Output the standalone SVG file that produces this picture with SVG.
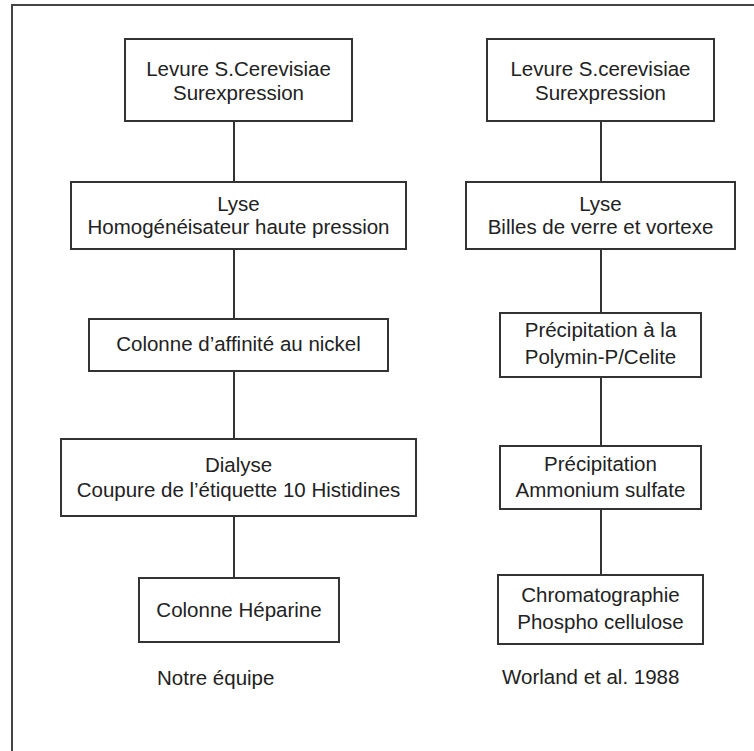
<svg xmlns="http://www.w3.org/2000/svg" width="754" height="751" viewBox="0 0 754 751">
<style>
.box{fill:#fff;stroke:#333;stroke-width:2}
.con line{stroke:#333;stroke-width:2}
text{font-family:"Liberation Sans",Arial,sans-serif;font-size:20.5px;fill:#222;text-anchor:middle}
.cap{text-anchor:start}
</style>
<rect width="754" height="751" fill="#fff"/>
<path d="M12,751 V5 H760" fill="none" stroke="#444" stroke-width="2"/>
<g class="con" id="connectors">
<line x1="234" y1="121" x2="234" y2="182"/>
<line x1="234" y1="249" x2="234" y2="319"/>
<line x1="234" y1="371" x2="234" y2="439"/>
<line x1="234" y1="516" x2="234" y2="578"/>
<line x1="601" y1="121" x2="601" y2="182"/>
<line x1="601" y1="249" x2="601" y2="313"/>
<line x1="601" y1="377" x2="601" y2="446"/>
<line x1="601" y1="509" x2="601" y2="575"/>
</g>
<g id="L1"><rect class="box" x="125" y="39" width="227" height="82"/><text x="238.5" y="76">Levure S.Cerevisiae</text><text x="238.5" y="100">Surexpression</text></g>
<g id="L2"><rect class="box" x="71" y="182" width="335" height="67"/><text x="238.5" y="211">Lyse</text><text x="238.5" y="234">Homogénéisateur haute pression</text></g>
<g id="L3"><rect class="box" x="89" y="319" width="299" height="52"/><text x="238.5" y="351">Colonne d’affinité au nickel</text></g>
<g id="L4"><rect class="box" x="61" y="439" width="355" height="77"/><text x="238.5" y="472">Dialyse</text><text x="238.5" y="497">Coupure de l’étiquette 10 Histidines</text></g>
<g id="L5"><rect class="box" x="139" y="578" width="200" height="64"/><text x="239" y="617">Colonne Héparine</text></g>
<text class="cap" x="157" y="685">Notre équipe</text>
<g id="R1"><rect class="box" x="487" y="39" width="227" height="82"/><text x="600.5" y="76">Levure S.cerevisiae</text><text x="600.5" y="100">Surexpression</text></g>
<g id="R2"><rect class="box" x="466" y="182" width="269" height="67"/><text x="600.5" y="211">Lyse</text><text x="600.5" y="234">Billes de verre et vortexe</text></g>
<g id="R3"><rect class="box" x="500" y="313" width="201" height="64"/><text x="600.5" y="337">Précipitation à la</text><text x="600.5" y="364">Polymin-P/Celite</text></g>
<g id="R4"><rect class="box" x="500" y="446" width="201" height="63"/><text x="600.5" y="471">Précipitation</text><text x="600.5" y="497">Ammonium sulfate</text></g>
<g id="R5"><rect class="box" x="498" y="575" width="205" height="69"/><text x="600.5" y="602">Chromatographie</text><text x="600.5" y="629">Phospho cellulose</text></g>
<text class="cap" x="502" y="684">Worland et al. 1988</text>
</svg>
